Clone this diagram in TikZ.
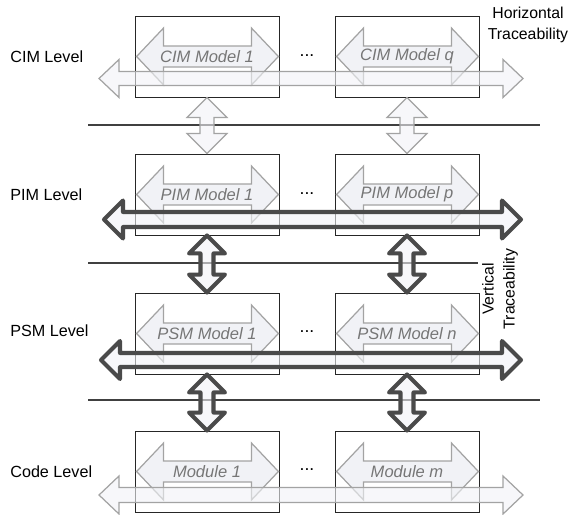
\documentclass[tikz,border=0pt]{standalone}
\usepackage{fontspec}
\setmainfont{Liberation Sans}
\usetikzlibrary{calc}

\definecolor{lightline}{HTML}{A3A3A3}
\definecolor{lightfill}{HTML}{F1F2F6}
\definecolor{darkline}{HTML}{4A4A4A}
\definecolor{modeltext}{HTML}{767676}

\newcommand{\pxu}{0.02cm}
% horizontal block arrow: style, left end, right end, shaft half, head half, head length
\newcommand{\harrow}[6]{%
  \draw[#1] let \p1=(#2), \p2=(#3) in
    (\x1,\y1) -- (\x1+#6,\y1+#5) -- (\x1+#6,\y1+#4) -- (\x2-#6,\y1+#4)
    -- (\x2-#6,\y1+#5) -- (\x2,\y1) -- (\x2-#6,\y1-#5) -- (\x2-#6,\y1-#4)
    -- (\x1+#6,\y1-#4) -- (\x1+#6,\y1-#5) -- cycle;}
% vertical block arrow: style, top end, bottom end, shaft half, head half, head length
\newcommand{\varrow}[6]{%
  \draw[#1] let \p1=(#2), \p2=(#3) in
    (\x1,\y1) -- (\x1+#5,\y1-#6) -- (\x1+#4,\y1-#6) -- (\x1+#4,\y2+#6)
    -- (\x1+#5,\y2+#6) -- (\x1,\y2) -- (\x1-#5,\y2+#6) -- (\x1-#4,\y2+#6)
    -- (\x1-#4,\y1-#6) -- (\x1-#5,\y1-#6) -- cycle;}

\begin{document}
\begin{tikzpicture}[x=0.02cm, y=-0.02cm,
  model/.style={rectangle, draw=black!85, line width=0.5pt,
    minimum width=2.88cm, minimum height=1.62cm},
  modeltxt/.style={text=modeltext, inner sep=0pt,
    font=\fontsize{9.4}{11}\selectfont\itshape},
  levellbl/.style={anchor=west, inner sep=0pt,
    font=\fontsize{9.2}{10}\selectfont},
  tracelbl/.style={align=center, inner sep=0pt,
    font=\fontsize{9}{11.9}\selectfont},
  inarrow/.style={draw=lightline, fill=lightfill, line width=0.7pt},
  lighttrace/.style={draw=lightline, fill=lightfill, fill opacity=0.6,
    line width=0.7pt},
  darktrace/.style={draw=darkline, fill=lightfill, fill opacity=0.6,
    line width=2.3pt, line join=round},
  levelline/.style={draw=black!75, line width=0.6pt},
]
\useasboundingbox (0,0) rectangle (571,514);

% model boxes
\node[model] (cim1) at (207,56.5) {};
\node[model] (cimq) at (407,56.5) {};
\node[model] (pim1) at (207,194.5) {};
\node[model] (pimp) at (407,194.5) {};
\node[model] (psm1) at (207,333.5) {};
\node[model] (psmn) at (407,333.5) {};
\node[model] (code1) at (207,471.5) {};
\node[model] (codem) at (407,471.5) {};

\foreach \b in {cim1,cimq,pim1,pimp,psm1,psmn,code1,codem}
  \harrow{inarrow}{$(\b.west)+(2,0)$}{$(\b.east)+(-1,0)$}
    {10.5*\pxu}{28.5*\pxu}{27*\pxu};

\node[modeltxt] (cim1txt) at (cim1) {CIM Model 1};
\node[modeltxt] (cimqtxt) at (cimq) {CIM Model q};
\node[modeltxt] (pim1txt) at (pim1) {PIM Model 1};
\node[modeltxt] (pimptxt) at (pimp) {PIM Model p};
\node[modeltxt] (psm1txt) at (psm1) {PSM Model 1};
\node[modeltxt] (psmntxt) at (psmn) {PSM Model n};
\node[modeltxt] (code1txt) at (code1) {Module 1};
\node[modeltxt] (codemtxt) at (codem) {Module m};

\node (cimdots) at (307,56) {...};
\node (pimdots) at (307,194) {...};
\node (psmdots) at (307,332) {...};
\node (codedots) at (307,470) {...};

% level labels
\node[levellbl] (cimlbl) at (10,57) {CIM Level};
\node[levellbl] (pimlbl) at (10,195) {PIM Level};
\node[levellbl] (psmlbl) at (10,331) {PSM Level};
\node[levellbl] (codelbl) at (10,472) {Code Level};

% level separators
\draw[levelline] (88,125) -- (540,125);
\draw[levelline] (88,263) -- (478,263);
\draw[levelline] (88,400) -- (540,400);

% vertical traceability
\varrow{lighttrace}{cim1.south}{pim1.north}{7*\pxu}{20*\pxu}{20*\pxu}
\varrow{lighttrace}{cimq.south}{pimp.north}{7*\pxu}{20*\pxu}{20*\pxu}
\varrow{darktrace}{pim1.south}{psm1.north}{6.5*\pxu}{18*\pxu}{18*\pxu}
\varrow{darktrace}{pimp.south}{psmn.north}{6.5*\pxu}{18*\pxu}{18*\pxu}
\varrow{darktrace}{psm1.south}{code1.north}{6.5*\pxu}{18*\pxu}{18*\pxu}
\varrow{darktrace}{psmn.south}{codem.north}{6.5*\pxu}{18*\pxu}{18*\pxu}

% horizontal traceability
\coordinate (cimL) at (99,78.5);
\coordinate (cimR) at (523,78.5);
\coordinate (pimL) at (104,219.5);
\coordinate (pimR) at (521,219.5);
\coordinate (psmL) at (101,360);
\coordinate (psmR) at (521,360);
\coordinate (codeL) at (99,495);
\coordinate (codeR) at (523,495);
\harrow{lighttrace}{cimL}{cimR}{7*\pxu}{19*\pxu}{20*\pxu}
\harrow{darktrace}{pimL}{pimR}{7.5*\pxu}{19*\pxu}{19*\pxu}
\harrow{darktrace}{psmL}{psmR}{7*\pxu}{19*\pxu}{19*\pxu}
\harrow{lighttrace}{codeL}{codeR}{7.5*\pxu}{19*\pxu}{20*\pxu}

\node[tracelbl] (htrace) at (528,25) {Horizontal\\Traceability};
\node[tracelbl, rotate=90] (vtrace) at (500,289) {Vertical\\Traceability};
\end{tikzpicture}
\end{document}
